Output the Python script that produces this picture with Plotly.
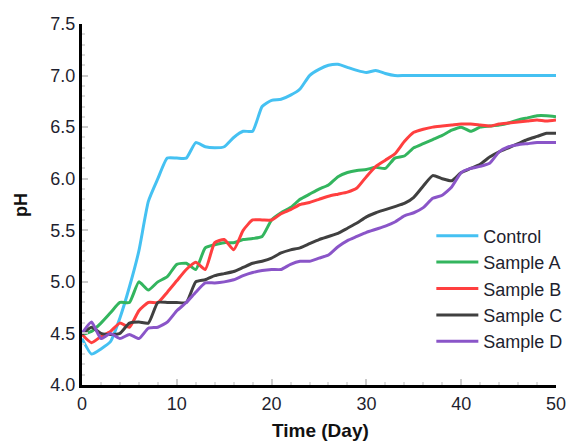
import plotly.graph_objects as go

days = list(range(0, 51))

control = [4.45, 4.3, 4.35, 4.42, 4.65, 4.95, 5.3, 5.78, 6.0, 6.2,
           6.2, 6.2, 6.35, 6.31, 6.3, 6.31, 6.4, 6.46, 6.46, 6.7,
           6.76, 6.77, 6.81, 6.87, 7.0, 7.06, 7.1, 7.11, 7.08, 7.05,
           7.03, 7.05, 7.02, 7.0, 7.0, 7.0, 7.0, 7.0, 7.0, 7.0,
           7.0, 7.0, 7.0, 7.0, 7.0, 7.0, 7.0, 7.0, 7.0, 7.0, 7.0]

sample_a = [4.49, 4.52, 4.6, 4.7, 4.8, 4.8, 5.0, 4.92, 5.0, 5.05,
            5.17, 5.18, 5.12, 5.33, 5.36, 5.38, 5.38, 5.41, 5.42, 5.44,
            5.6, 5.67, 5.72, 5.8, 5.85, 5.9, 5.94, 6.02, 6.06, 6.08,
            6.09, 6.11, 6.1, 6.2, 6.22, 6.3, 6.34, 6.38, 6.42, 6.47,
            6.5, 6.46, 6.5, 6.51, 6.52, 6.54, 6.57, 6.59, 6.61, 6.61, 6.6]

sample_b = [4.49, 4.41, 4.47, 4.52, 4.6, 4.56, 4.72, 4.8, 4.8, 4.9,
            5.01, 5.12, 5.19, 5.12, 5.38, 5.41, 5.31, 5.5, 5.6, 5.6,
            5.6, 5.66, 5.7, 5.75, 5.77, 5.8, 5.83, 5.85, 5.87, 5.91,
            6.02, 6.12, 6.18, 6.24, 6.36, 6.45, 6.48, 6.5, 6.51, 6.52,
            6.53, 6.53, 6.52, 6.51, 6.53, 6.54, 6.55, 6.56, 6.57, 6.56, 6.57]

sample_c = [4.49, 4.56, 4.5, 4.49, 4.5, 4.6, 4.61, 4.6, 4.8, 4.8,
            4.8, 4.8, 5.0, 5.02, 5.06, 5.08, 5.1, 5.14, 5.18, 5.2,
            5.23, 5.28, 5.31, 5.33, 5.37, 5.41, 5.44, 5.47, 5.52, 5.57,
            5.63, 5.67, 5.7, 5.73, 5.76, 5.82, 5.93, 6.03, 6.0, 5.98,
            6.06, 6.1, 6.14, 6.21, 6.26, 6.3, 6.34, 6.38, 6.41, 6.44, 6.44]

sample_d = [4.5, 4.61, 4.45, 4.5, 4.45, 4.49, 4.45, 4.55, 4.56, 4.61,
            4.72, 4.8, 4.9, 4.99, 4.99, 5.0, 5.02, 5.06, 5.09, 5.11,
            5.12, 5.12, 5.17, 5.2, 5.2, 5.23, 5.26, 5.34, 5.4, 5.44,
            5.48, 5.51, 5.54, 5.58, 5.64, 5.67, 5.72, 5.81, 5.84, 5.92,
            6.06, 6.1, 6.12, 6.15, 6.26, 6.31, 6.33, 6.34, 6.35, 6.35, 6.35]

x_ticks = [0, 10, 20, 30, 40, 50]
y_ticks = [4.0, 4.5, 5.0, 5.5, 6.0, 6.5, 7.0, 7.5]
y_tick_labels = ["4.0", "4.5", "5.0", "5.5", "6.0", "6.5", "7.0", "7.5"]

series_names = ["Control", "Sample A", "Sample B", "Sample C", "Sample D"]
series_values = [control, sample_a, sample_b, sample_c, sample_d]
series_colors = ["#45c1f2", "#33b55e", "#ff3f3f", "#404040", "#8a55c8"]

fig = go.Figure()
for name, vals, col in zip(series_names, series_values, series_colors):
    fig.add_trace(go.Scatter(
        x=days, y=vals, name=name, mode="lines",
        line=dict(color=col, width=3, shape="spline", smoothing=0.5),
    ))

font_family = "Liberation Sans, Arial, sans-serif"
text_col = "#1f1f2f"

# the page body has an 8px margin, so the figure is 8px smaller than the window
fig.update_layout(
    width=572, height=435,
    margin=dict(l=74, r=13, t=16, b=58),
    paper_bgcolor="white", plot_bgcolor="white",
    font=dict(family=font_family, size=18, color=text_col),
    showlegend=True,
    legend=dict(x=0.737, y=0.464, xanchor="left", yanchor="top",
                bgcolor="rgba(0,0,0,0)", font=dict(size=18, color=text_col),
                tracegroupgap=0, itemwidth=42),
    annotations=[
        dict(text="<b>Time (Day)</b>", xref="paper", yref="paper",
             x=0.503, y=-0.127, xanchor="center", yanchor="middle",
             showarrow=False, font=dict(size=19, color="#111111")),
        dict(text="<b>pH</b>", xref="paper", yref="paper",
             x=-0.13, y=0.5, xanchor="center", yanchor="middle",
             textangle=-90, showarrow=False, font=dict(size=18, color="#111111")),
    ],
)

fig.update_xaxes(
    range=[0, 50], tickvals=x_ticks, automargin=False,
    showgrid=False, zeroline=False,
    showline=True, linecolor="black", linewidth=3,
    ticks="inside", tickcolor="#cccccc", ticklen=6, tickwidth=2,
    minor=dict(dtick=2, ticks="inside", ticklen=3, tickcolor="#dddddd", tickwidth=2),
    tickfont=dict(size=18, color=text_col),
)

fig.update_yaxes(
    range=[4.0, 7.5], tickvals=y_ticks, ticktext=y_tick_labels, automargin=False,
    showgrid=False, zeroline=False,
    showline=True, linecolor="black", linewidth=3,
    ticks="inside", tickcolor="#cccccc", ticklen=6, tickwidth=2,
    minor=dict(dtick=0.1, ticks="inside", ticklen=3, tickcolor="#dddddd", tickwidth=2),
    tickfont=dict(size=18, color=text_col),
)

fig.write_html("out.html")
